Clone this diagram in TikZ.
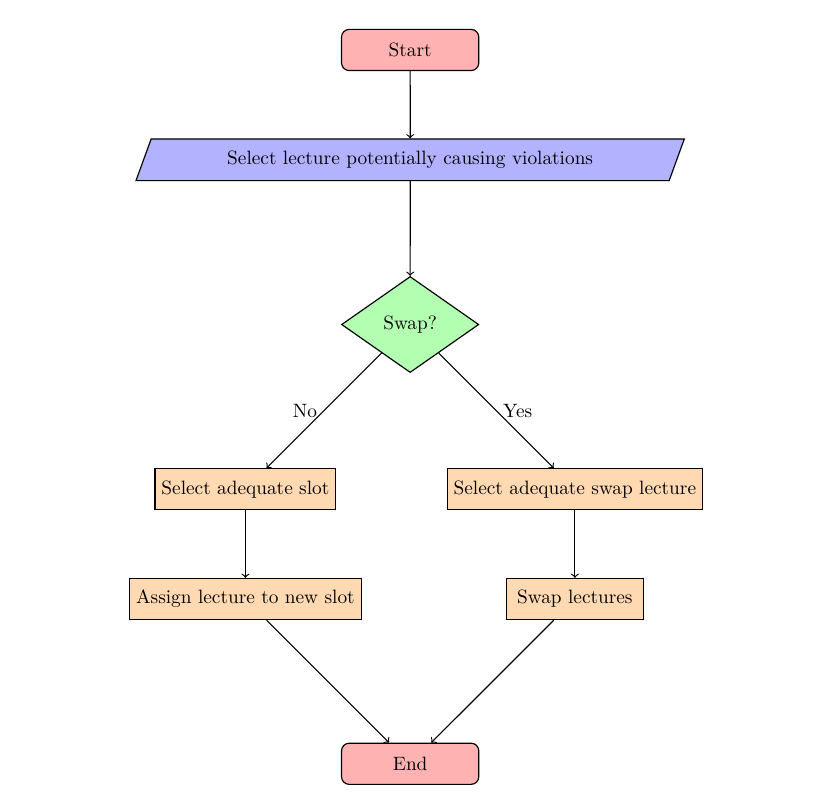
\documentclass[tikz,border=0pt]{standalone}
\usetikzlibrary{shapes.geometric, positioning, arrows}

\tikzset{
    startstop/.style={rectangle, rounded corners, minimum width=2.5cm, minimum height=0.75cm, draw=black, fill=red!30},
    io/.style={trapezium, trapezium left angle=70, trapezium right angle=110, minimum width=10cm, minimum height=0.75cm, draw=black, fill=blue!30},
    process/.style={rectangle, minimum width=2.5cm, minimum height=0.75cm, draw=black, fill=orange!30},
    decision/.style={diamond, aspect=1.5, minimum width=2.5cm, minimum height=1.75cm, draw=black, fill=green!30}
}

\begin{document}
\begin{tikzpicture}[node distance=2cm and 3cm, on grid, auto, semithick]
    \useasboundingbox (-7.47,0.91) rectangle (7.61,-13.625);

    % Nodes
    \node[startstop] (start) {Start};
    \node[io, below=2cm of start] (select) {Select lecture potentially causing violations};
    \node[decision, below=3cm of select] (swapq) {Swap?};
    \node[process, below left=3cm and 3cm of swapq] (slot) {Select adequate slot};
    \node[process, below right=3cm and 3cm of swapq] (partner) {Select adequate swap lecture};
    \node[process, below=of slot] (assign) {Assign lecture to new slot};
    \node[process, below=of partner] (swap) {Swap lectures};
    \node[startstop, below right=3cm and 3cm of assign] (stop) {End};

    % Paths
    \draw[->] (start) -- (select);
    \draw[->] (select) -- (swapq);
    \draw[->] (swapq) -- node[left] {No} (slot);
    \draw[->] (swapq) -- node[right] {Yes} (partner);
    \draw[->] (slot) -- (assign);
    \draw[->] (partner) -- (swap);
    \draw[->] (assign) -- (stop);
    \draw[->] (swap) -- (stop);
\end{tikzpicture}
\end{document}
